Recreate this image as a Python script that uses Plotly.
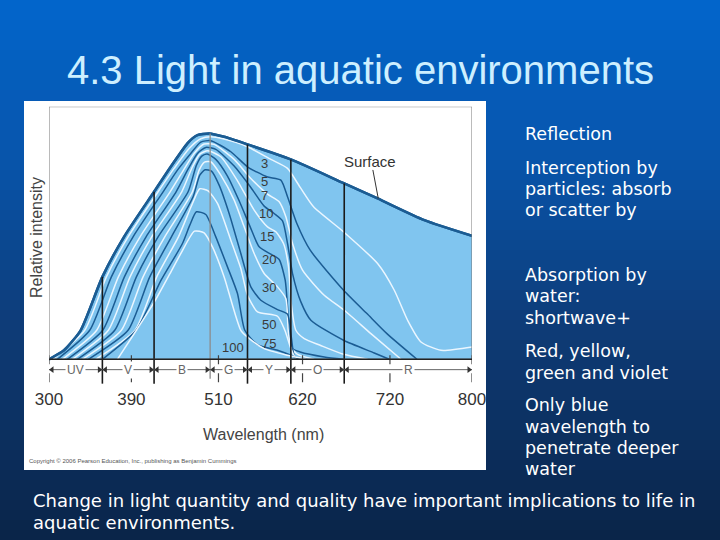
import numpy as np
import plotly.graph_objects as go

# x = position along the printed wavelength scale (0 -> 300 nm, 1268 -> 800 nm; the printed scale is not linear)
# y = relative intensity, arbitrary units (0 = baseline)
tick_pos = [0, 247, 508, 760, 1022, 1268]
tick_text = ["300", "390", "510", "620", "720", "800"]

band_names = ["UV", "V", "B", "G", "Y", "O", "R"]
band_edges = [0, 160, 315, 483, 595, 725, 885, 1268]
band_top = [247, 502, 677, 644, 599, 527]

surface_x = [0, 45, 95, 160, 225, 315, 365, 415, 430, 445, 480, 525, 595, 725, 885, 985, 1125, 1268]
surface_y = [0, 27, 87, 247, 367, 502, 577, 647, 662, 672, 677, 667, 644, 599, 527, 482, 417, 370]

m3_x = [12, 107, 172, 237, 327, 375, 420, 455, 485, 525, 595, 665, 715, 753, 793, 883, 985, 1035, 1075, 1115, 1175, 1268]
m3_y = [0, 87, 247, 367, 502, 572, 632, 661, 667, 660, 637, 599, 572, 515, 457, 382, 287, 207, 117, 52, 27, 37]

m5_x = [25, 122, 187, 252, 342, 385, 425, 455, 485, 545, 595, 653, 695, 715, 743, 783, 883, 953, 1013, 1103]
m5_y = [0, 87, 247, 367, 502, 567, 617, 651, 655, 622, 577, 547, 537, 487, 407, 327, 207, 137, 77, 0]

m7_x = [40, 143, 208, 273, 363, 403, 435, 465, 495, 555, 605, 655, 690, 710, 730, 760, 825, 885, 965, 1055]
m7_y = [0, 87, 247, 367, 502, 567, 617, 645, 644, 599, 542, 495, 472, 427, 347, 267, 192, 147, 77, 0]

m10_x = [55, 161, 226, 291, 381, 418, 445, 470, 500, 555, 605, 645, 675, 700, 715, 730, 755, 785, 883, 975, 1020]
m10_y = [0, 87, 247, 367, 502, 572, 617, 635, 629, 579, 515, 459, 437, 415, 347, 257, 172, 117, 57, 19, 0]

m15_x = [70, 178, 243, 308, 398, 430, 452, 476, 515, 565, 615, 655, 680, 703, 718, 725, 740, 765, 813, 883, 955]
m15_y = [0, 87, 247, 367, 502, 577, 615, 625, 607, 535, 447, 397, 382, 347, 277, 177, 87, 62, 42, 15, 0]

m20_x = [85, 197, 262, 327, 417, 442, 458, 474, 500, 535, 570, 603, 630, 665, 690, 708, 715, 720, 730, 753, 825, 883]
m20_y = [0, 87, 247, 367, 502, 582, 609, 615, 599, 549, 475, 397, 337, 315, 299, 237, 157, 77, 32, 22, 7, 0]

m30_x = [100, 217, 282, 347, 430, 450, 466, 485, 515, 555, 585, 615, 645, 685, 710, 717, 725, 745, 795]
m30_y = [0, 87, 247, 367, 502, 567, 591, 592, 552, 477, 397, 317, 257, 217, 182, 87, 37, 15, 0]

m50_x = [118, 237, 302, 367, 432, 452, 468, 487, 510, 540, 575, 605, 635, 685, 715, 725, 733, 740]
m50_y = [0, 87, 247, 367, 487, 552, 568, 564, 522, 437, 317, 217, 177, 149, 135, 77, 17, 0]

m75_x = [140, 258, 323, 388, 430, 452, 477, 505, 545, 575, 595, 625, 685, 707, 725, 737, 745]
m75_y = [0, 87, 247, 367, 467, 511, 505, 467, 357, 272, 192, 142, 129, 87, 32, 7, 0]

m100_x = [160, 261, 336, 400, 422, 442, 470, 500, 535, 565, 587, 625, 685, 725, 750]
m100_y = [0, 87, 237, 347, 402, 442, 434, 367, 277, 197, 87, 44, 27, 12, 0]

deep_x = [205, 262, 316, 360, 398, 436, 465, 490, 525, 575, 597, 645, 715, 770]
deep_y = [0, 87, 172, 252, 322, 384, 379, 337, 247, 87, 65, 32, 12, 0]

depth_labels = ["3", "5", "7", "10", "15", "20", "30", "50", "75", "100"]
depth_label_x = [645, 647, 645, 650, 652, 658, 658, 658, 658, 553]
depth_label_y = [587, 532, 492, 437, 367, 299, 214, 105, 47, 35]

side_lines = [
    ("Reflection", 134), ("Interception by", 168), ("particles: absorb", 189),
    ("or scatter by", 210), ("Absorption by", 275), ("water:", 296),
    ("shortwave+", 318), ("Red, yellow,", 351), ("green and violet", 373),
    ("Only blue", 405), ("wavelength to", 427), ("penetrate deeper", 448), ("water", 469),
]
bottom_lines = [
    ("Change in light quantity and quality have important implications to life in", 500),
    ("aquatic environments.", 522),
]

W, H = 720, 540
FILL = "#80C5EF"
DARK = "#1B5C93"
LIGHT = "#EAF6FF"
ARIAL = "Liberation Sans, Arial, sans-serif"
BODY = "DejaVu Sans, Verdana, sans-serif"


def px(x, y):
    # pixel position on the slide -> paper coordinates
    return x / W, 1 - y / H


fig = go.Figure()

fig.add_trace(go.Scatter(x=surface_x, y=surface_y, mode="lines", fill="tozeroy",
                         fillcolor=FILL, line=dict(color=DARK, width=2.5, shape="spline", smoothing=0.6)))

curves = [(m3_x, m3_y, LIGHT), (m5_x, m5_y, DARK), (m7_x, m7_y, LIGHT), (m10_x, m10_y, DARK),
          (m15_x, m15_y, LIGHT), (m20_x, m20_y, DARK), (m30_x, m30_y, LIGHT), (m50_x, m50_y, DARK),
          (m75_x, m75_y, LIGHT), (m100_x, m100_y, DARK), (deep_x, deep_y, LIGHT)]
for cx, cy, col in curves:
    fig.add_trace(go.Scatter(x=cx, y=cy, mode="lines",
                             line=dict(color=col, width=1.5, shape="spline", smoothing=0.6)))

# redraw surface outline on top
fig.add_trace(go.Scatter(x=surface_x, y=surface_y, mode="lines",
                         line=dict(color=DARK, width=2.5, shape="spline", smoothing=0.6)))

# band boundary verticals
inner = band_edges[1:-1]
bx, by, gx, gy = [], [], [], []
for i, (e, top) in enumerate(zip(inner, band_top)):
    if i == 2:
        gx += [e, e, None]
        gy += [top, -58, None]
    else:
        bx += [e, e, None]
        by += [top, -73, None]
fig.add_trace(go.Scatter(x=bx, y=by, mode="lines", line=dict(color="#1a1a1a", width=1.6)))
fig.add_trace(go.Scatter(x=gx, y=gy, mode="lines", line=dict(color="#8c8c8c", width=1.3)))

# dashed scale ticks
tx, ty = [], []
for t in tick_pos:
    tx += [t, t, None]
    ty += [12, -83, None]
fig.add_trace(go.Scatter(x=tx, y=ty, mode="lines", line=dict(color="#444", width=1.2, dash="dash")))

# band arrow row
fig.add_trace(go.Scatter(x=[band_edges[0], band_edges[-1]], y=[-31, -31], mode="lines",
                         line=dict(color="#666", width=1)))
ax_l = [e + 9 for e in band_edges[:-1]]
ax_r = [e - 9 for e in band_edges[1:]]
fig.add_trace(go.Scatter(x=ax_l + ax_r, y=[-31] * (len(ax_l) + len(ax_r)), mode="markers",
                         marker=dict(symbol=["triangle-left"] * len(ax_l) + ["triangle-right"] * len(ax_r),
                                     size=6, color="#333")))
for name, a, b in zip(band_names, band_edges[:-1], band_edges[1:]):
    fig.add_annotation(x=(a + b) / 2, y=-31, text=name, showarrow=False, bgcolor="white",
                       borderpad=1, font=dict(family=ARIAL, size=12, color="#666"))

# frame and baseline
fig.add_shape(type="rect", xref="x", yref="y", x0=0, x1=1268, y0=0, y1=757,
              line=dict(color="#777", width=1))
fig.add_shape(type="line", xref="x", yref="y", x0=0, x1=1268, y0=0, y1=0,
              line=dict(color="#222", width=1.5))

for lab, lx, ly in zip(depth_labels, depth_label_x, depth_label_y):
    fig.add_annotation(x=lx, y=ly, text=lab, showarrow=False,
                       font=dict(family=ARIAL, size=13, color="#3a3a3a"))

fig.add_annotation(x=962, y=594, text="Surface", showarrow=False,
                   font=dict(family=ARIAL, size=15, color="#333"))
fig.add_annotation(x=987, y=482, ax=970, ay=572, axref="x", ayref="y", xref="x", yref="y",
                   text="", showarrow=True, arrowhead=0, arrowwidth=1, arrowcolor="#333")

# slide background gradient
stops = np.array([[0, 2, 102, 204], [0.3, 8, 84, 170], [0.6, 14, 60, 120], [1.0, 10, 36, 72]])
n = 54
for k in range(n):
    t = (k + 0.5) / n
    r = np.interp(t, stops[:, 0], stops[:, 1])
    g = np.interp(t, stops[:, 0], stops[:, 2])
    b = np.interp(t, stops[:, 0], stops[:, 3])
    fig.add_shape(type="rect", xref="paper", yref="paper", x0=0, x1=1,
                  y0=1 - (k + 1) / n - 0.002, y1=1 - k / n, layer="below",
                  line=dict(width=0), fillcolor=f"rgb({r:.0f},{g:.0f},{b:.0f})")
x0, y1 = px(24, 101)
x1, y0 = px(486, 470)
fig.add_shape(type="rect", xref="paper", yref="paper", x0=x0, x1=x1, y0=y0, y1=y1,
              layer="below", line=dict(width=0), fillcolor="white")


def slide_text(x, y, text, size, color, family, xanchor="center", angle=0):
    ax_, ay_ = px(x, y)
    fig.add_annotation(xref="paper", yref="paper", x=ax_, y=ay_, text=text, textangle=angle,
                       xanchor=xanchor, yanchor="middle", showarrow=False,
                       font=dict(family=family, size=size, color=color))


slide_text(360, 70, "4.3 Light in aquatic environments", 40, "#CDEFFF", ARIAL)
slide_text(36, 238, "Relative intensity", 16, "#444", ARIAL, angle=-90)
slide_text(263, 434, "Wavelength (nm)", 16, "#444", ARIAL)
slide_text(27, 461, "Copyright © 2006 Pearson Education, Inc., publishing as Benjamin Cummings",
           6, "#555", ARIAL, xanchor="left")
for txt, py in side_lines:
    slide_text(523, py, txt, 17.5, "white", BODY, xanchor="left")
for txt, py in bottom_lines:
    slide_text(31, py, txt, 18, "white", BODY, xanchor="left")

fig.update_layout(
    width=W, height=H,
    margin=dict(l=0, r=0, t=0, b=0, pad=0, autoexpand=False),
    paper_bgcolor="#0A4FA0",
    plot_bgcolor="rgba(0,0,0,0)",
    showlegend=False,
    xaxis=dict(domain=[49 / W, 472 / W], range=[0, 1268], tickvals=tick_pos, ticktext=tick_text,
               showgrid=False, zeroline=False, showline=False, ticks="", automargin=False,
               tickfont=dict(family=ARIAL, size=17, color="#333")),
    yaxis=dict(domain=[1 - 387 / H, 1 - 106.7 / H], range=[-83, 757], visible=False, automargin=False),
)

fig.write_html("out.html", config={"displayModeBar": False},
               post_script="document.body.style.margin='0px';")
